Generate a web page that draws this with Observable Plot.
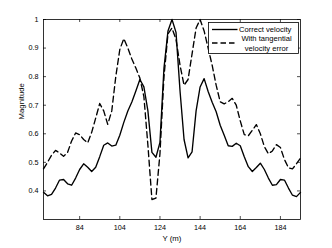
<!DOCTYPE html>
<html><head><meta charset="utf-8">
<script src="https://cdn.jsdelivr.net/npm/d3@7"></script>
<script src="https://cdn.jsdelivr.net/npm/@observablehq/plot@0.6"></script>
<style>
body{margin:0;background:#fff}
#c{position:relative;width:332px;height:248px;font-family:'Liberation Sans',Arial,sans-serif}
#leg{position:absolute;left:0;top:0}
</style>
</head><body><div id="c"></div>
<script>
const yPos = [66,68,70,72,74,76,78,80,82,84,86,88,90,92,94,96,98,100,102,104,106,108,110,112,114,116,118,120,122,124,126,128,130,132,134,136,138,140,142,144,146,148,150,152,154,156,158,160,162,164,166,168,170,172,174,176,178,180,182,184,186,188,190,192,194];
const correct = [0.395,0.383,0.388,0.41,0.438,0.44,0.425,0.42,0.445,0.475,0.495,0.483,0.468,0.483,0.52,0.56,0.568,0.557,0.56,0.595,0.64,0.68,0.711,0.75,0.79,0.764,0.68,0.535,0.518,0.57,0.83,0.96,1.0,0.955,0.75,0.58,0.516,0.537,0.68,0.764,0.793,0.748,0.71,0.677,0.63,0.595,0.558,0.556,0.567,0.558,0.52,0.485,0.468,0.482,0.497,0.475,0.445,0.42,0.422,0.44,0.438,0.41,0.385,0.38,0.395];
const tangential = [0.477,0.5,0.525,0.542,0.533,0.521,0.535,0.575,0.603,0.597,0.58,0.568,0.605,0.655,0.706,0.68,0.633,0.68,0.8,0.895,0.933,0.9,0.862,0.83,0.795,0.73,0.56,0.37,0.375,0.53,0.8,0.95,0.97,0.93,0.84,0.77,0.79,0.88,0.97,1.0,0.96,0.9,0.84,0.77,0.712,0.705,0.712,0.724,0.7,0.645,0.597,0.593,0.612,0.632,0.6,0.555,0.53,0.54,0.562,0.552,0.51,0.481,0.477,0.495,0.515];
const xTicks = [84,104,124,144,164,184];
const yTicks = [0.4,0.5,0.6,0.7,0.8,0.9,1];
const seriesNames = ["Correct velocity", "With tangential", "velocity error"];
const xLabel = "Y (m)";
const yLabel = "Magnitude";

const W = 332, H = 248, mL = 43, mR = 32, mT = 19, mB = 29;
const pw = W - mL - mR, ph = H - mT - mB, tk = 3;

const chart = Plot.plot({
  width: W, height: H,
  marginLeft: mL, marginRight: mR, marginTop: mT, marginBottom: mB,
  style: {fontFamily: "'Liberation Sans', Arial, sans-serif", fontSize: "7px", color: "#000", background: "#fff", overflow: "visible"},
  x: {domain: [66, 194]},
  y: {domain: [0.3, 1]},
  marks: [
    Plot.axisX({ticks: xTicks, tickSize: 0, tickPadding: 5, label: null, fontSize: 7.2}),
    Plot.axisY({ticks: yTicks, tickSize: 0, tickPadding: 5, label: null, fontSize: 7.2, tickFormat: d => d === 1 ? "1" : d.toFixed(1)}),
    Plot.tickX(xTicks, {x: d => d, insetTop: ph - tk, stroke: "#000", strokeWidth: 0.7}),
    Plot.tickX(xTicks, {x: d => d, insetBottom: ph - tk, stroke: "#000", strokeWidth: 0.7}),
    Plot.tickY(yTicks, {y: d => d, insetRight: pw - tk, stroke: "#000", strokeWidth: 0.7}),
    Plot.tickY(yTicks, {y: d => d, insetLeft: pw - tk, stroke: "#000", strokeWidth: 0.7}),
    Plot.line(tangential, {x: yPos, y: d => d, stroke: "#000", strokeWidth: 1.35, strokeDasharray: "6,3.5"}),
    Plot.line(correct, {x: yPos, y: d => d, stroke: "#000", strokeWidth: 1.35}),
    Plot.frame({stroke: "#000", strokeWidth: 0.8}),
    Plot.text([xLabel], {text: d => d, frameAnchor: "bottom", dy: 21, fontSize: 7.8}),
    Plot.text([yLabel], {text: d => d, frameAnchor: "left", dx: -22, rotate: -90, fontSize: 7.8})
  ]
});
const c = document.getElementById("c");
c.appendChild(chart);

// legend box overlay
const ns = "http://www.w3.org/2000/svg";
const leg = document.createElementNS(ns, "svg");
leg.setAttribute("id", "leg");
leg.setAttribute("width", W); leg.setAttribute("height", H);
leg.style.pointerEvents = "none";
const lx = 208.5, ly = 22.5, lw = 90, lh = 31;
function el(tag, attrs, text) {
  const e = document.createElementNS(ns, tag);
  for (const k in attrs) e.setAttribute(k, attrs[k]);
  if (text) e.textContent = text;
  leg.appendChild(e);
  return e;
}
el("rect", {x: lx, y: ly, width: lw, height: lh, fill: "#fff", stroke: "#000", "stroke-width": 0.8});
el("line", {x1: lx + 3.5, x2: lx + 29, y1: ly + 7, y2: ly + 7, stroke: "#000", "stroke-width": 1.35});
el("line", {x1: lx + 3.5, x2: lx + 29, y1: ly + 20.5, y2: ly + 20.5, stroke: "#000", "stroke-width": 1.35, "stroke-dasharray": "5.5,3"});
const tstyle = {"font-family": "'Liberation Sans', Arial, sans-serif", "font-size": 7.6, fill: "#000", "dominant-baseline": "central"};
el("text", {...tstyle, x: lx + 30.5, y: ly + 7}, seriesNames[0]);
el("text", {...tstyle, x: lx + 58, y: ly + 16, "text-anchor": "middle"}, seriesNames[1]);
el("text", {...tstyle, x: lx + 58, y: ly + 26, "text-anchor": "middle"}, seriesNames[2]);
c.appendChild(leg);
</script>
</body></html>
